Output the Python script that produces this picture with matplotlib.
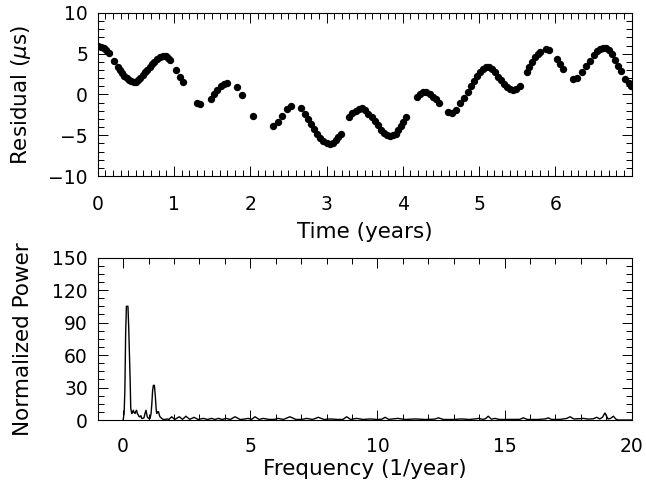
import matplotlib
matplotlib.use("Agg")
import matplotlib.pyplot as plt
from matplotlib.ticker import MultipleLocator, FixedLocator

# ---- Top panel: timing residuals ----
time_years = [0.01, 0.05, 0.08, 0.11, 0.15, 0.21, 0.26, 0.29, 0.32, 0.35, 0.38, 0.41, 0.44, 0.47,
              0.50, 0.53, 0.56, 0.59, 0.62, 0.65, 0.68, 0.71, 0.74, 0.78, 0.82, 0.86, 0.89, 0.92,
              0.95, 1.03, 1.08, 1.12, 1.30, 1.34, 1.48, 1.53, 1.57, 1.62, 1.66, 1.70, 1.82, 1.89,
              2.03, 2.30, 2.36, 2.42, 2.48, 2.54, 2.67, 2.72, 2.76, 2.80, 2.84, 2.88, 2.92, 2.96,
              3.00, 3.04, 3.08, 3.12, 3.15, 3.19, 3.30, 3.34, 3.38, 3.42, 3.46, 3.50, 3.55, 3.59,
              3.63, 3.67, 3.71, 3.75, 3.79, 3.83, 3.87, 3.91, 3.94, 3.97, 4.00, 4.04, 4.19, 4.23,
              4.27, 4.31, 4.35, 4.39, 4.43, 4.47, 4.59, 4.65, 4.70, 4.75, 4.80, 4.85, 4.89, 4.93,
              4.97, 5.01, 5.05, 5.09, 5.13, 5.17, 5.21, 5.25, 5.29, 5.33, 5.37, 5.41, 5.45, 5.49,
              5.53, 5.63, 5.66, 5.70, 5.73, 5.77, 5.80, 5.88, 5.92, 6.02, 6.06, 6.10, 6.23, 6.28,
              6.35, 6.40, 6.45, 6.50, 6.54, 6.58, 6.62, 6.66, 6.70, 6.74, 6.78, 6.82, 6.86, 6.91,
              6.96, 6.99]
residual_us = [6.0, 5.85, 5.65, 5.45, 5.1, 4.1, 3.4, 3.0, 2.6, 2.3, 2.0, 1.8, 1.6, 1.5,
               1.55, 1.75, 2.05, 2.4, 2.75, 3.05, 3.35, 3.7, 4.0, 4.3, 4.6, 4.75, 4.7, 4.5,
               4.2, 3.0, 2.2, 1.5, -1.0, -1.2, -0.5, 0.05, 0.5, 1.0, 1.3, 1.4, 0.9, -0.1,
               -2.6, -3.9, -3.35, -2.6, -1.8, -1.4, -1.7, -2.4, -3.0, -3.6, -4.2, -4.8, -5.3, -5.7,
               -5.95, -6.05, -5.9, -5.6, -5.2, -4.8, -2.8, -2.3, -2.0, -1.8, -1.7, -1.9, -2.4, -2.8,
               -3.3, -3.8, -4.3, -4.7, -4.95, -5.05, -5.0, -4.8, -4.4, -3.9, -3.4, -2.7, -0.3, 0.1,
               0.3, 0.3, 0.1, -0.3, -0.6, -1.0, -2.2, -2.25, -1.9, -1.1, -0.4, 0.3, 1.0, 1.6,
               2.3, 2.8, 3.15, 3.35, 3.4, 3.15, 2.7, 2.2, 1.8, 1.3, 0.95, 0.7, 0.6, 0.7,
               1.0, 2.8, 3.4, 4.0, 4.6, 5.0, 5.2, 5.6, 5.4, 4.3, 3.7, 3.1, 1.9, 2.0,
               2.8, 3.5, 4.1, 4.8, 5.3, 5.6, 5.75, 5.7, 5.5, 5.0, 4.2, 3.5, 2.9, 1.9,
               1.4, 1.1]

# ---- Bottom panel: periodogram ----
frequency = [0.00, 0.04, 0.07, 0.10, 0.13, 0.16, 0.19, 0.22, 0.25, 0.28, 0.30, 0.34, 0.37, 0.40,
             0.43, 0.47, 0.50, 0.53, 0.56, 0.60, 0.63, 0.66, 0.70, 0.73, 0.77, 0.82, 0.86, 0.90,
             0.95, 1.00, 1.06, 1.10, 1.13, 1.16, 1.19, 1.23, 1.27, 1.30, 1.32, 1.36, 1.39, 1.42,
             1.45, 1.52, 1.58, 1.65, 1.75,
             1.80, 1.91, 2.03, 2.21, 2.34, 2.47, 2.62, 2.79, 2.95, 3.16, 3.32, 3.48, 3.61, 3.74,
             3.90, 4.05, 4.22, 4.40, 4.60, 4.75, 4.92, 5.05, 5.19, 5.35, 5.51, 5.75, 5.95, 6.10,
             6.30, 6.56, 6.80, 7.05, 7.22, 7.45, 7.68, 7.90, 8.14, 8.45, 8.65, 8.79, 8.95, 9.18,
             9.45, 9.71, 10.0, 10.18, 10.30, 10.45, 10.8, 11.1, 11.48, 11.9, 12.25, 12.40, 12.6,
             13.0, 13.31, 13.6, 13.85, 13.97, 14.15, 14.25, 14.36, 14.48, 14.63, 14.8, 15.2, 15.6,
             15.74, 15.9, 16.3, 16.6, 16.72, 16.85, 17.2, 17.45, 17.58, 17.72, 17.95, 18.1, 18.3,
             18.5, 18.62, 18.75, 18.85, 18.95, 19.07, 19.17, 19.28, 19.38, 19.47, 19.55, 20.0]
norm_power = [0, 6, 28, 80, 105, 105, 105, 86, 61, 34, 11, 6, 7, 9,
              7, 6, 8, 9, 6, 4.6, 3, 3, 4, 1.5, 1.5, 2, 6, 9,
              3, 1.5, 1.5, 6, 15, 27, 32, 32, 21, 10, 6, 7.5, 7.7, 5,
              3, 1.5, 0.5, 0.5, 1,
              0.5, 3, 0.5, 3, 0.6, 3.5, 0.6, 2.5, 0.5, 1.5, 0.5, 1.5, 0.5, 1.5,
              0.5, 1.5, 0.5, 3, 0.5, 0.8, 1.5, 0.6, 3, 0.5, 1.5, 0.5, 0.6, 1.5,
              0.5, 3, 0.5, 0.6, 1.5, 0.5, 2.5, 0.5, 1, 0.5, 0.6, 3, 0.5, 1.5,
              0.5, 1, 0.5, 0.8, 2.5, 0.6, 1.5, 0.5, 1, 0.5, 0.8, 2, 0.5,
              0.5, 1, 0.5, 1, 1.5, 0.6, 1.2, 3.5, 0.8, 1.5, 0.5, 0.5, 0.6,
              2, 0.5, 0.5, 1, 2, 0.5, 0.6, 1.5, 3, 1, 1.2, 1.5, 0.8,
              1.2, 2.5, 1.0, 2.5, 6.5, 1.0, 1.5, 3.5, 0.8, 0, 0, 0]

fs_tick = 13.5
fs_label = 15.5

fig = plt.figure(figsize=(6.46, 4.83), dpi=100)
ax1 = fig.add_axes([0.1512, 0.6356, 0.8266, 0.3375])
ax2 = fig.add_axes([0.1512, 0.1304, 0.8266, 0.3364])

ax1.plot(time_years, residual_us, 'o', color='black', ms=5.3, mew=0)
ax1.set_xlim(0, 7)
ax1.set_ylim(-10, 10)
ax1.xaxis.set_major_locator(FixedLocator([0, 1, 2, 3, 4, 5, 6]))
ax1.xaxis.set_minor_locator(MultipleLocator(0.1))
ax1.yaxis.set_major_locator(MultipleLocator(5))
ax1.yaxis.set_minor_locator(MultipleLocator(1))
ax1.set_xlabel('Time (years)', fontsize=fs_label)
ax1.set_ylabel('Residual ($\\mu$s)', fontsize=fs_label)
ax1.xaxis.set_label_coords(0.5, -0.28)
ax1.yaxis.set_label_coords(-0.122, 0.5)

ax2.plot(frequency, norm_power, '-', color='black', lw=1.0, clip_on=False)
ax2.set_xlim(-1, 20)
ax2.set_ylim(0, 150)
ax2.xaxis.set_major_locator(MultipleLocator(5))
ax2.xaxis.set_minor_locator(MultipleLocator(1))
ax2.yaxis.set_major_locator(MultipleLocator(30))
ax2.yaxis.set_minor_locator(MultipleLocator(7.5))
ax2.set_xlabel('Frequency (1/year)', fontsize=fs_label)
ax2.set_ylabel('Normalized Power', fontsize=fs_label)
ax2.xaxis.set_label_coords(0.5, -0.24)
ax2.yaxis.set_label_coords(-0.122, 0.5)

for ax, xpad in ((ax1, 14), (ax2, 12)):
    for s in ax.spines.values():
        s.set_linewidth(0.8)
    ax.tick_params(which='both', direction='in', top=True, right=True, width=0.7,
                   labelsize=fs_tick, colors='black')
    ax.tick_params(which='major', length=7.5)
    ax.tick_params(which='minor', length=4)
    ax.tick_params(axis='x', which='both', pad=xpad)
    ax.tick_params(axis='y', which='both', pad=7)

fig.savefig('out.png', dpi=100)
